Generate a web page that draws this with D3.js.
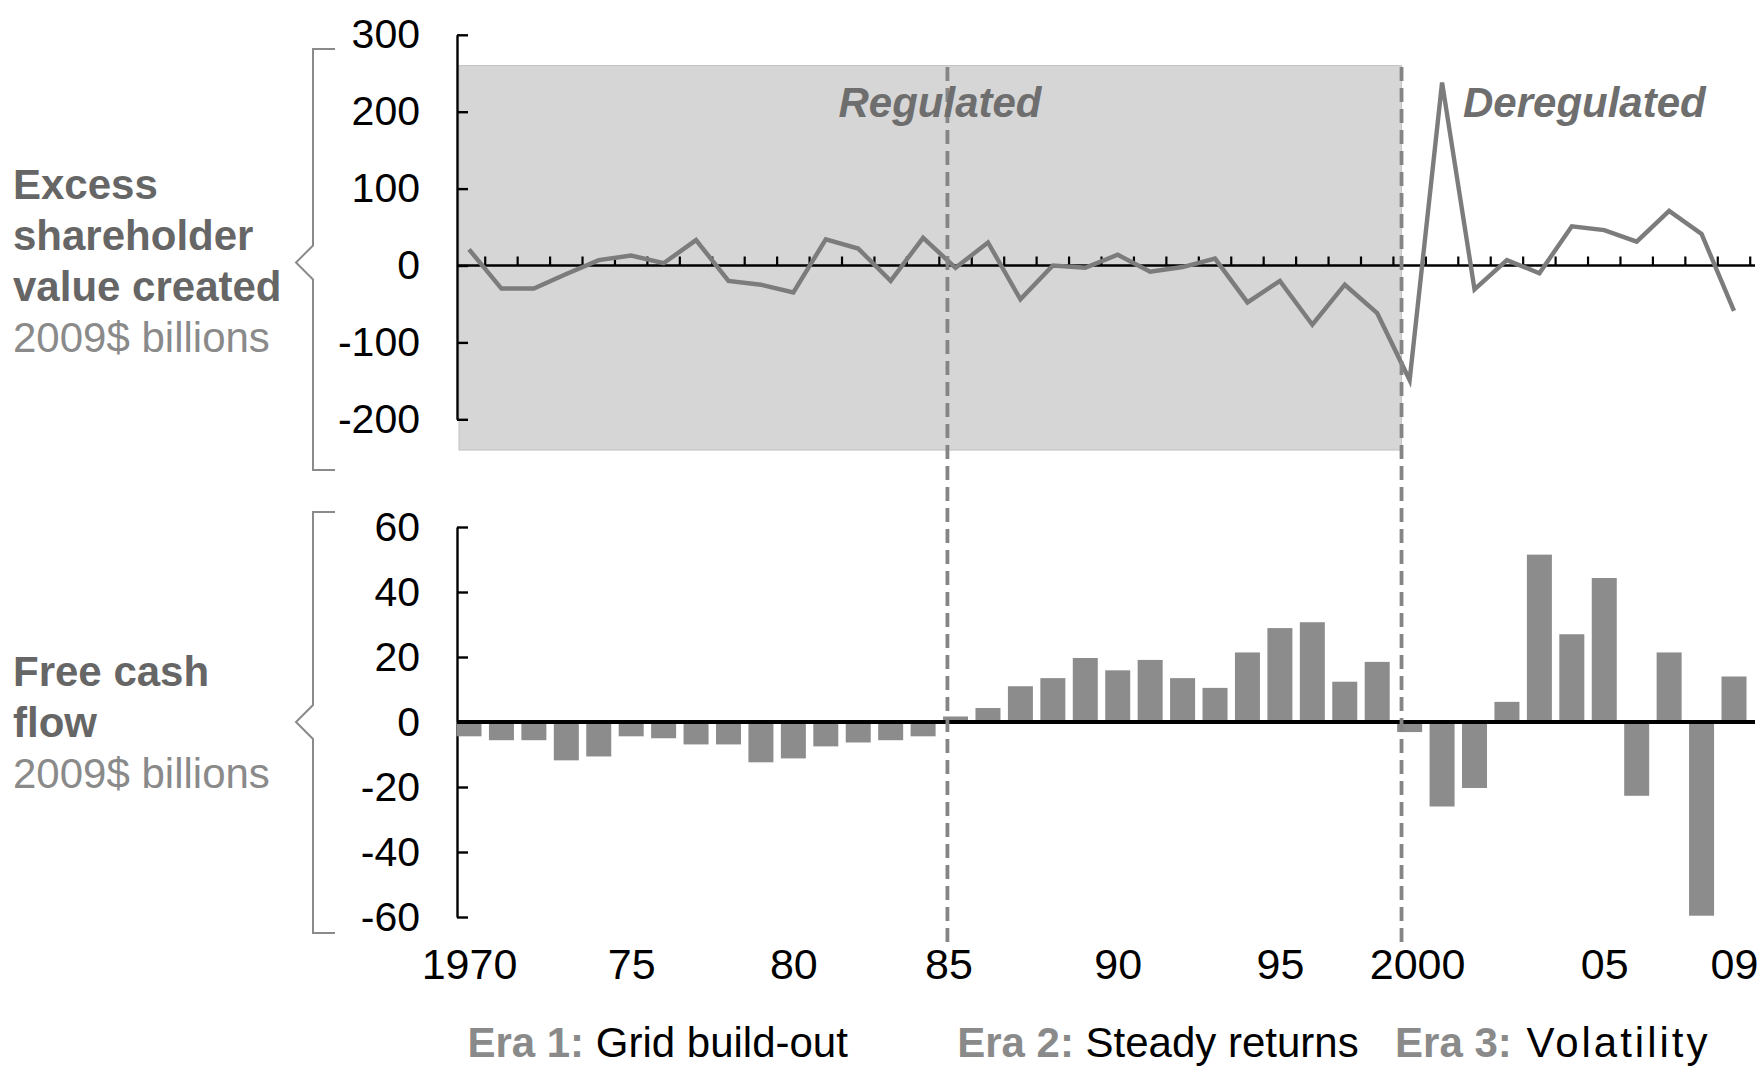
<!DOCTYPE html>
<html>
<head>
<meta charset="utf-8">
<script src="https://cdn.jsdelivr.net/npm/d3@7/dist/d3.min.js"></script>
<style>
body { margin: 0; background: #fff; }
svg { display: block; font-family: "Liberation Sans", Arial, Helvetica, sans-serif; }
</style>
</head>
<body>
<div id="chart"></div>
<script>
//Years on the x axis
var years = [1970, 1971, 1972, 1973, 1974, 1975, 1976, 1977, 1978, 1979,
             1980, 1981, 1982, 1983, 1984, 1985, 1986, 1987, 1988, 1989,
             1990, 1991, 1992, 1993, 1994, 1995, 1996, 1997, 1998, 1999,
             2000, 2001, 2002, 2003, 2004, 2005, 2006, 2007, 2008, 2009];

//Excess shareholder value created, 2009$ billions
var excessValue = [21, -30, -30, -11, 7, 13, 3, 33, -20, -25,
                   -35, 34, 22, -20, 36, -3, 30, -44, 0, -3,
                   14, -8, -2, 9, -48, -20, -77, -25, -62, -149,
                   238, -31, 7, -10, 51, 46, 31, 71, 41, -59];

//Free cash flow, 2009$ billions
var freeCashFlow = [-4.4, -5.6, -5.6, -11.8, -10.6, -4.4, -5.0, -6.9, -6.9, -12.4,
                    -11.2, -7.5, -6.3, -5.6, -4.4, 1.7, 4.3, 11, 13.5, 19.7,
                    15.9, 19.1, 13.5, 10.5, 21.4, 28.9, 30.7, 12.4, 18.5, -3.1,
                    -26, -20.3, 6.2, 51.5, 27, 44.3, -22.7, 21.4, -59.6, 14];

//Axis ticks
var topTicks = [300, 200, 100, 0, -100, -200];
var bottomTicks = [60, 40, 20, 0, -20, -40, -60];
var yearTicks = [1970, 1975, 1980, 1985, 1990, 1995, 2000, 2005, 2009];
var yearTickLabels = ["1970", "75", "80", "85", "90", "95", "2000", "05", "09"];

//Era breaks (regulation ends at the second one)
var eraBreaks = [1984.75, 1998.75];
var eraNames = ["Era 1:", "Era 2:", "Era 3:"];
var eraTexts = ["Grid build-out", "Steady returns", "Volatility"];

var width = 1764,
    height = 1068,
    axisX = 457;

var svg = d3.select("#chart").append("svg")
    .attr("width", width)
    .attr("height", height);

var x = d3.scaleLinear().domain([1970, 2009]).range([469, 1734]);
var yTop = d3.scaleLinear().domain([-200, 300]).range([419.3, 34.8]);
var yBot = d3.scaleLinear().domain([-60, 60]).range([917, 527]);
var barW = 25;
var lineEnd = x(2009) + 21;

//Regulated shaded area
svg.append("rect")
    .attr("x", axisX + 2)
    .attr("y", yTop(260))
    .attr("width", x(eraBreaks[1]) - axisX - 2)
    .attr("height", yTop(-240) - yTop(260))
    .attr("fill", "#d6d6d6")
    .attr("stroke", "#c2c2c2")
    .attr("stroke-width", 1);

//Top y axis
var topAxis = svg.append("g")
    .attr("transform", "translate(" + axisX + ",0)")
    .call(d3.axisLeft(yTop).tickValues(topTicks).tickFormat(String)
        .tickSizeInner(-11).tickSizeOuter(0).tickPadding(37));

//Bottom y axis
var botAxis = svg.append("g")
    .attr("transform", "translate(" + axisX + ",0)")
    .call(d3.axisLeft(yBot).tickValues(bottomTicks).tickFormat(String)
        .tickSizeInner(-11).tickSizeOuter(0).tickPadding(37));

[topAxis, botAxis].forEach(function (g) {
    g.selectAll("path, line").attr("stroke", "#000").attr("stroke-width", 2.4);
    g.selectAll("text").attr("font-size", 41).attr("fill", "#000")
        .attr("font-family", "Liberation Sans, Arial, sans-serif");
});

//Top zero line with small ticks between years
svg.append("line")
    .attr("x1", axisX).attr("x2", lineEnd)
    .attr("y1", yTop(0)).attr("y2", yTop(0))
    .attr("stroke", "#000").attr("stroke-width", 2.4);

svg.append("g")
    .selectAll("line")
    .data(years)
    .enter().append("line")
    .attr("x1", function (d) { return x(d + 0.5); })
    .attr("x2", function (d) { return x(d + 0.5); })
    .attr("y1", yTop(0))
    .attr("y2", yTop(0) - 9)
    .attr("stroke", "#000")
    .attr("stroke-width", 2.2);

//Excess shareholder value line
var line = d3.line()
    .x(function (d, i) { return x(years[i]); })
    .y(function (d) { return yTop(d); });

svg.append("path")
    .datum(excessValue)
    .attr("d", line)
    .attr("fill", "none")
    .attr("stroke", "#7c7c7c")
    .attr("stroke-width", 4.4)
    .attr("stroke-linejoin", "miter");

//Free cash flow bars
svg.append("g")
    .selectAll("rect")
    .data(freeCashFlow)
    .enter().append("rect")
    .attr("x", function (d, i) { return x(years[i]) - barW / 2; })
    .attr("y", function (d) { return yBot(Math.max(0, d)); })
    .attr("width", barW)
    .attr("height", function (d) { return Math.abs(yBot(d) - yBot(0)); })
    .attr("fill", "#8c8c8c");

svg.append("line")
    .attr("x1", axisX).attr("x2", lineEnd)
    .attr("y1", yBot(0)).attr("y2", yBot(0))
    .attr("stroke", "#000").attr("stroke-width", 3.8);

//Era dividers
svg.append("g")
    .selectAll("line")
    .data(eraBreaks)
    .enter().append("line")
    .attr("x1", function (d) { return x(d); })
    .attr("x2", function (d) { return x(d); })
    .attr("y1", 67)
    .attr("y2", 942)
    .attr("stroke", "#858585")
    .attr("stroke-width", 3.8)
    .attr("stroke-dasharray", "14,7");

//Regulated / Deregulated labels
svg.append("text")
    .attr("x", 940).attr("y", 117)
    .attr("text-anchor", "middle")
    .attr("font-size", 42).attr("font-weight", "bold").attr("font-style", "italic")
    .attr("fill", "#6e6e6e")
    .text("Regulated");

svg.append("text")
    .attr("x", 1463).attr("y", 117)
    .attr("font-size", 42).attr("font-weight", "bold").attr("font-style", "italic")
    .attr("fill", "#6e6e6e")
    .text("Deregulated");

//Year labels
svg.append("g")
    .attr("transform", "translate(0,948)")
    .call(d3.axisBottom(x).tickValues(yearTicks)
        .tickFormat(function (d, i) { return yearTickLabels[i]; })
        .tickSize(0).tickPadding(0))
    .call(function (g) { g.select(".domain").remove(); })
    .call(function (g) {
        g.selectAll("text")
            .attr("font-size", 43).attr("fill", "#000")
            .attr("font-family", "Liberation Sans, Arial, sans-serif")
            .attr("dx", function (d) { return d === 2000 ? -25 : (d === 1985 ? -7 : 0); });
    });

//Era labels along the bottom
var eraStart = [1969.95, eraBreaks[0] + 0.3, eraBreaks[1] - 0.2];
var eraText = svg.append("g").selectAll("text")
    .data(eraNames)
    .enter().append("text")
    .attr("x", function (d, i) { return x(eraStart[i]); })
    .attr("y", 1057)
    .attr("font-size", 42);

eraText.append("tspan")
    .attr("font-weight", "bold")
    .attr("fill", "#8a8a8a")
    .text(function (d) { return d; });

eraText.append("tspan")
    .attr("fill", "#000")
    .attr("letter-spacing", function (d, i) { return i === 2 ? 3 : 0; })
    .text(function (d, i) { return " " + eraTexts[i]; });

//Braces and panel titles
function bracePath(top, tip, bottom) {
    return "M335," + top + "H313V" + (tip - 17) + "L296," + tip +
        "L313," + (tip + 17) + "V" + bottom + "H335";
}

svg.append("path")
    .attr("d", bracePath(49, yTop(0) - 3, 470))
    .attr("fill", "none").attr("stroke", "#8a8a8a").attr("stroke-width", 2);

svg.append("path")
    .attr("d", bracePath(512, yBot(0), 933))
    .attr("fill", "none").attr("stroke", "#8a8a8a").attr("stroke-width", 2);

var titleTop = ["Excess", "shareholder", "value created"];
var titleBottom = ["Free cash", "flow"];
var unitLabel = "2009$ billions";

function panelTitle(lines, baseY) {
    var t = svg.append("text").attr("x", 13).attr("font-size", 42);
    lines.forEach(function (s, i) {
        t.append("tspan")
            .attr("x", 13).attr("y", baseY + i * 51)
            .attr("font-weight", "bold").attr("fill", "#666666")
            .text(s);
    });
    t.append("tspan")
        .attr("x", 13).attr("y", baseY + lines.length * 51)
        .attr("fill", "#8a8a8a")
        .text(unitLabel);
}

panelTitle(titleTop, 199);
panelTitle(titleBottom, 686);
</script>
</body>
</html>
